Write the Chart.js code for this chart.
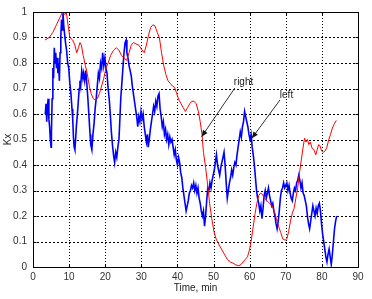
<!DOCTYPE html>
<html>
<head>
<meta charset="utf-8">
<script src="https://cdn.jsdelivr.net/npm/chart.js@4"></script>
<style>
  body { margin: 0; background: #fff; }
  canvas { display: block; }
</style>
</head>
<body>
<canvas id="myChart" width="372" height="299"></canvas>
<script>
// red curve ("right")
let redTime = [3.3, 4.5, 5.5, 6.5, 7.5, 8.2, 8.8, 9.2, 9.7, 10.2, 11.0, 11.6, 12.1, 12.6, 13.0, 13.4, 13.9, 14.5, 15.0, 15.6,
  16.1, 16.7, 17.2, 17.8, 18.4, 19.0, 19.6, 20.2, 20.8, 21.5, 22.3, 23.1, 23.8, 24.5, 25.2, 25.9, 26.6, 27.2, 27.8, 28.5,
  29.3, 30.0, 30.8, 31.4, 32.0, 32.6, 33.2, 33.8, 34.4, 35.0, 35.6, 36.2, 36.8, 37.4, 38.0, 38.6, 39.2, 39.8, 40.4, 41.0,
  41.6, 42.2, 42.8, 43.4, 44.0, 44.6, 45.2, 45.8, 46.3, 46.8, 47.2, 47.8, 48.3, 48.9, 49.5, 50.1, 50.7, 51.4, 52.2, 53.0,
  53.8, 54.6, 55.4, 56.2, 57.0, 57.6, 58.2, 58.8, 59.4, 60.0, 60.5, 61.0, 61.5, 62.0, 62.5, 63.0, 63.5, 64.1, 64.8, 65.5,
  66.2, 66.8, 67.4, 68.0, 68.6, 69.2, 69.8, 70.3, 70.8, 71.3, 71.8, 72.3, 72.8, 73.3, 73.8, 74.3, 74.8, 75.2, 75.6, 76.0,
  76.4, 76.8, 77.3, 77.8, 78.3, 78.7, 79.1, 79.5, 79.9, 80.4, 80.9, 81.4, 81.9, 82.4, 82.9, 83.4, 84.0];
let redKx = [0.89, 0.90, 0.92, 0.95, 0.98, 1.00, 0.99, 1.00, 0.95, 0.90, 0.89, 0.87, 0.84, 0.86, 0.88, 0.87, 0.83, 0.79, 0.76, 0.71,
  0.68, 0.66, 0.655, 0.66, 0.68, 0.71, 0.74, 0.78, 0.80, 0.83, 0.85, 0.86, 0.85, 0.83, 0.82, 0.81, 0.84, 0.87, 0.88, 0.875,
  0.87, 0.855, 0.84, 0.87, 0.91, 0.94, 0.95, 0.945, 0.92, 0.90, 0.84, 0.79, 0.755, 0.73, 0.72, 0.71, 0.705, 0.68, 0.655, 0.64,
  0.625, 0.61, 0.625, 0.64, 0.65, 0.65, 0.64, 0.61, 0.57, 0.52, 0.45, 0.39, 0.33, 0.25, 0.19, 0.14, 0.11, 0.09, 0.07, 0.05,
  0.03, 0.02, 0.015, 0.008, 0.005, 0.01, 0.02, 0.03, 0.04, 0.07, 0.11, 0.16, 0.21, 0.25, 0.28, 0.29, 0.285, 0.27, 0.26, 0.25,
  0.24, 0.22, 0.19, 0.16, 0.135, 0.11, 0.105, 0.11, 0.14, 0.18, 0.21, 0.23, 0.27, 0.31, 0.37, 0.42, 0.47, 0.505, 0.49, 0.50,
  0.48, 0.49, 0.465, 0.46, 0.44, 0.46, 0.48, 0.475, 0.455, 0.45, 0.455, 0.47, 0.50, 0.52, 0.545, 0.56, 0.575];

// blue curve ("left")
let blueTime = [3.4, 3.6, 3.8, 4.0, 4.2, 4.4, 4.6, 4.8, 5.0, 5.1, 5.3, 5.5, 5.7, 5.9, 6.1, 6.3, 6.5, 6.7, 6.9, 7.1,
  7.3, 7.5, 7.7, 7.9, 8.1, 8.3, 8.5, 8.7, 9.0, 9.3, 9.6, 9.9, 10.2, 10.5, 10.8, 11.0, 11.2, 11.4, 11.6, 11.8,
  12.0, 12.3, 12.5, 12.8, 13.0, 13.2, 13.5, 13.8, 14.0, 14.3, 14.6, 14.9, 15.2, 15.5, 15.8, 16.0, 16.3, 16.6, 16.9, 17.2,
  17.5, 17.8, 18.1, 18.4, 18.7, 19.0, 19.3, 19.6, 19.9, 20.2, 20.5, 20.8, 21.1, 21.4, 21.7, 22.0, 22.3, 22.6, 22.9, 23.2,
  23.5, 23.8, 24.0, 24.3, 24.6, 24.9, 25.2, 25.5, 25.8, 26.0, 26.3, 26.6, 26.9, 27.2, 27.5, 27.8, 28.1, 28.4, 28.8, 29.0,
  29.3, 29.6, 29.9, 30.2, 30.5, 30.8, 31.1, 31.4, 31.7, 31.9, 32.2, 32.5, 32.8, 33.1, 33.4, 33.7, 34.0, 34.3, 34.6, 34.9,
  35.2, 35.5, 35.8, 36.1, 36.4, 36.7, 37.0, 37.3, 37.6, 37.9, 38.2, 38.5, 38.8, 39.1, 39.4, 39.7, 40.0, 40.3, 40.6, 40.9,
  41.2, 41.5, 41.8, 42.1, 42.4, 42.7, 43.0, 43.3, 43.6, 43.9, 44.2, 44.5, 44.8, 45.1, 45.4, 45.7, 46.0, 46.3, 46.6, 46.9,
  47.2, 47.5, 47.8, 48.1, 48.4, 48.7, 49.0, 49.3, 49.6, 49.9, 50.2, 50.5, 50.8, 51.1, 51.4, 51.7, 52.0, 52.3, 52.6, 52.9,
  53.2, 53.5, 53.8, 54.1, 54.4, 54.7, 55.0, 55.3, 55.6, 55.9, 56.2, 56.5, 56.8, 57.1, 57.4, 57.7, 58.0, 58.3, 58.6, 58.9,
  59.2, 59.5, 59.8, 60.1, 60.4, 60.7, 61.0, 61.3, 61.6, 61.9, 62.2, 62.5, 62.8, 63.1, 63.4, 63.7, 64.0, 64.3, 64.6, 64.9,
  65.2, 65.5, 65.8, 66.1, 66.4, 66.7, 67.0, 67.3, 67.6, 67.9, 68.2, 68.5, 68.8, 69.1, 69.4, 69.7, 70.0, 70.3, 70.6, 70.9,
  71.2, 71.5, 71.8, 72.1, 72.4, 72.7, 73.0, 73.3, 73.6, 73.9, 74.2, 74.5, 74.8, 75.1, 75.4, 75.7, 76.0, 76.3, 76.6, 76.9,
  77.2, 77.5, 77.8, 78.1, 78.4, 78.7, 79.0, 79.3, 79.6, 79.9, 80.2, 80.5, 80.8, 81.1, 81.4, 81.7, 82.0, 82.3, 82.6, 82.9,
  83.2, 83.5, 83.8, 84.1];
let blueKx = [0.60, 0.64, 0.57, 0.63, 0.66, 0.58, 0.55, 0.50, 0.47, 0.52, 0.66, 0.78, 0.74, 0.86, 0.80, 0.84, 0.78, 0.82, 0.76, 0.80,
  0.73, 0.84, 0.90, 0.97, 0.93, 1.00, 0.95, 0.92, 0.88, 0.85, 0.80, 0.78, 0.72, 0.68, 0.62, 0.58, 0.51, 0.47, 0.46, 0.50,
  0.55, 0.60, 0.64, 0.70, 0.73, 0.71, 0.77, 0.74, 0.76, 0.73, 0.77, 0.72, 0.66, 0.59, 0.52, 0.48, 0.46, 0.52, 0.56, 0.62,
  0.66, 0.71, 0.76, 0.74, 0.80, 0.78, 0.84, 0.79, 0.82, 0.78, 0.76, 0.70, 0.66, 0.60, 0.53, 0.48, 0.44, 0.41, 0.45, 0.43,
  0.47, 0.50, 0.56, 0.66, 0.72, 0.78, 0.84, 0.88, 0.89, 0.84, 0.82, 0.79, 0.77, 0.75, 0.71, 0.68, 0.65, 0.62, 0.58, 0.55,
  0.59, 0.57, 0.61, 0.58, 0.60, 0.55, 0.52, 0.49, 0.52, 0.47, 0.50, 0.54, 0.57, 0.60, 0.63, 0.61, 0.65, 0.63, 0.67, 0.68,
  0.62, 0.59, 0.55, 0.57, 0.52, 0.54, 0.50, 0.52, 0.48, 0.51, 0.49, 0.50, 0.47, 0.44, 0.46, 0.42, 0.40, 0.43, 0.41, 0.37,
  0.35, 0.31, 0.28, 0.25, 0.22, 0.24, 0.26, 0.29, 0.30, 0.32, 0.31, 0.33, 0.30, 0.32, 0.29, 0.31, 0.27, 0.25, 0.22, 0.20,
  0.22, 0.16, 0.20, 0.26, 0.31, 0.30, 0.33, 0.31, 0.34, 0.36, 0.38, 0.41, 0.44, 0.40, 0.38, 0.36, 0.39, 0.41, 0.43, 0.45,
  0.40, 0.33, 0.27, 0.30, 0.33, 0.35, 0.38, 0.36, 0.39, 0.41, 0.40, 0.44, 0.47, 0.50, 0.53, 0.51, 0.55, 0.57, 0.61, 0.59,
  0.57, 0.55, 0.52, 0.50, 0.52, 0.47, 0.44, 0.40, 0.35, 0.30, 0.27, 0.25, 0.22, 0.24, 0.19, 0.23, 0.28, 0.30, 0.27, 0.29,
  0.31, 0.28, 0.26, 0.24, 0.25, 0.22, 0.20, 0.17, 0.15, 0.18, 0.22, 0.27, 0.30, 0.31, 0.33, 0.31, 0.32, 0.33, 0.30, 0.32,
  0.29, 0.27, 0.26, 0.29, 0.31, 0.30, 0.33, 0.34, 0.36, 0.34, 0.31, 0.33, 0.29, 0.28, 0.26, 0.24, 0.20, 0.17, 0.15, 0.18,
  0.21, 0.24, 0.22, 0.20, 0.23, 0.21, 0.24, 0.25, 0.22, 0.17, 0.13, 0.10, 0.07, 0.04, 0.02, 0.05, 0.07, 0.04, 0.01, 0.05,
  0.10, 0.15, 0.18, 0.20];

let xTickLabels = ["0", "10", "20", "30", "40", "50", "60", "70", "80", "90"];
let yTickLabels = ["0", "0.1", "0.2", "0.3", "0.4", "0.5", "0.6", "0.7", "0.8", "0.9", "1"];

// text labels with arrows, in data units: [text, textX, textY, fromX, fromY, toX, toY]
let notes = [
  ["right", 58.3, 0.7235, 55.9, 0.702, 46.7, 0.511],
  ["left", 70.2, 0.6725, 68.4, 0.655, 60.6, 0.505],
];

const font = "'Liberation Sans', Arial, sans-serif";

function toPoints(xs, ys) {
  return xs.map((x, i) => ({ x: x, y: ys[i] }));
}

// plot box taken from the scales themselves (0..90, 0..1)
function plotBox(chart) {
  const xs = chart.scales.x;
  const ys = chart.scales.y;
  return {
    left: Math.round(xs.getPixelForValue(0)),
    right: Math.round(xs.getPixelForValue(90)),
    top: Math.round(ys.getPixelForValue(1)),
    bottom: Math.round(ys.getPixelForValue(0)),
  };
}

// dotted grid (matlab look), drawn under the lines
const dottedGrid = {
  id: "dottedGrid",
  beforeDatasetsDraw(chart) {
    const c = chart.ctx;
    const b = plotBox(chart);
    const xs = chart.scales.x;
    const ys = chart.scales.y;
    c.save();
    c.strokeStyle = "#000";
    c.lineWidth = 1;
    c.setLineDash([1, 2]);
    xTickLabels.forEach((t) => {
      const px = Math.round(xs.getPixelForValue(Number(t))) + 0.5;
      c.beginPath();
      c.moveTo(px, b.top);
      c.lineTo(px, b.bottom);
      c.stroke();
    });
    c.setLineDash([2, 2]);
    yTickLabels.forEach((t) => {
      const py = Math.round(ys.getPixelForValue(Number(t))) + 0.5;
      c.beginPath();
      c.moveTo(b.left, py);
      c.lineTo(b.right, py);
      c.stroke();
    });
    c.restore();
  },
};

// closed box round the plot with inward ticks, plus the two arrow notes
const boxAndNotes = {
  id: "boxAndNotes",
  afterDraw(chart) {
    const c = chart.ctx;
    const b = plotBox(chart);
    const xs = chart.scales.x;
    const ys = chart.scales.y;
    const L = b.left + 0.5, R = b.right + 0.5, T = b.top + 0.5, B = b.bottom + 0.5;
    c.save();
    c.setLineDash([]);
    c.strokeStyle = "#000";
    c.lineWidth = 1;
    c.beginPath();
    c.rect(L, T, R - L, B - T);
    c.stroke();
    c.beginPath();
    xTickLabels.forEach((t) => {
      const px = Math.round(xs.getPixelForValue(Number(t))) + 0.5;
      c.moveTo(px, B); c.lineTo(px, B - 3);
      c.moveTo(px, T); c.lineTo(px, T + 3);
    });
    yTickLabels.forEach((t) => {
      const py = Math.round(ys.getPixelForValue(Number(t))) + 0.5;
      c.moveTo(L, py); c.lineTo(L + 3, py);
      c.moveTo(R, py); c.lineTo(R - 3, py);
    });
    c.stroke();

    c.font = "10px " + font;
    c.textAlign = "center";
    c.textBaseline = "middle";
    notes.forEach((n) => {
      c.fillStyle = "#222";
      c.fillText(n[0], xs.getPixelForValue(n[1]), ys.getPixelForValue(n[2]));
      const x1 = xs.getPixelForValue(n[3]), y1 = ys.getPixelForValue(n[4]);
      const x2 = xs.getPixelForValue(n[5]), y2 = ys.getPixelForValue(n[6]);
      c.strokeStyle = "#333";
      c.beginPath();
      c.moveTo(x1, y1);
      c.lineTo(x2, y2);
      c.stroke();
      const ang = Math.atan2(y2 - y1, x2 - x1);
      c.fillStyle = "#111";
      c.beginPath();
      c.moveTo(x2, y2);
      c.lineTo(x2 - 7 * Math.cos(ang - 0.4), y2 - 7 * Math.sin(ang - 0.4));
      c.lineTo(x2 - 7 * Math.cos(ang + 0.4), y2 - 7 * Math.sin(ang + 0.4));
      c.closePath();
      c.fill();
    });
    c.restore();
  },
};

const ctx = document.getElementById("myChart");
new Chart(ctx, {
  type: "line",
  data: {
    datasets: [
      {
        label: "right",
        data: toPoints(redTime, redKx),
        borderColor: "#ff0000",
        borderWidth: 1,
        pointRadius: 0,
        tension: 0,
      },
      {
        label: "left",
        data: toPoints(blueTime, blueKx),
        borderColor: "#0000ff",
        borderWidth: 1.6,
        pointRadius: 0,
        tension: 0,
      },
    ],
  },
  options: {
    responsive: false,
    animation: false,
    layout: { padding: { top: 12, right: 14, left: 0, bottom: 0 } },
    plugins: { legend: { display: false }, tooltip: { enabled: false } },
    scales: {
      x: {
        type: "linear",
        min: 0,
        max: 90,
        afterFit(scale) { scale.height = 32; },
        afterBuildTicks(scale) {
          scale.ticks = xTickLabels.map((t) => ({ value: Number(t) }));
        },
        ticks: {
          padding: 4,
          color: "#333",
          font: { family: font, size: 10 },
          maxRotation: 0,
          callback: (v, i) => xTickLabels[i],
        },
        grid: { display: false, drawTicks: false },
        border: { display: false },
        title: {
          display: true,
          text: "Time, min",
          color: "#222",
          font: { family: font, size: 10 },
          padding: { top: 0, bottom: 5 },
        },
      },
      y: {
        min: 0,
        max: 1,
        afterFit(scale) { scale.width = 33; },
        afterBuildTicks(scale) {
          scale.ticks = yTickLabels.map((t) => ({ value: Number(t) }));
        },
        ticks: {
          padding: 6,
          color: "#333",
          font: { family: font, size: 10 },
          callback: (v, i) => yTickLabels[i],
        },
        grid: { display: false, drawTicks: false },
        border: { display: false },
        title: {
          display: true,
          text: "Kx",
          color: "#222",
          font: { family: font, size: 10 },
          padding: { top: 2, bottom: 0 },
        },
      },
    },
  },
  plugins: [dottedGrid, boxAndNotes],
});
</script>
</body>
</html>
